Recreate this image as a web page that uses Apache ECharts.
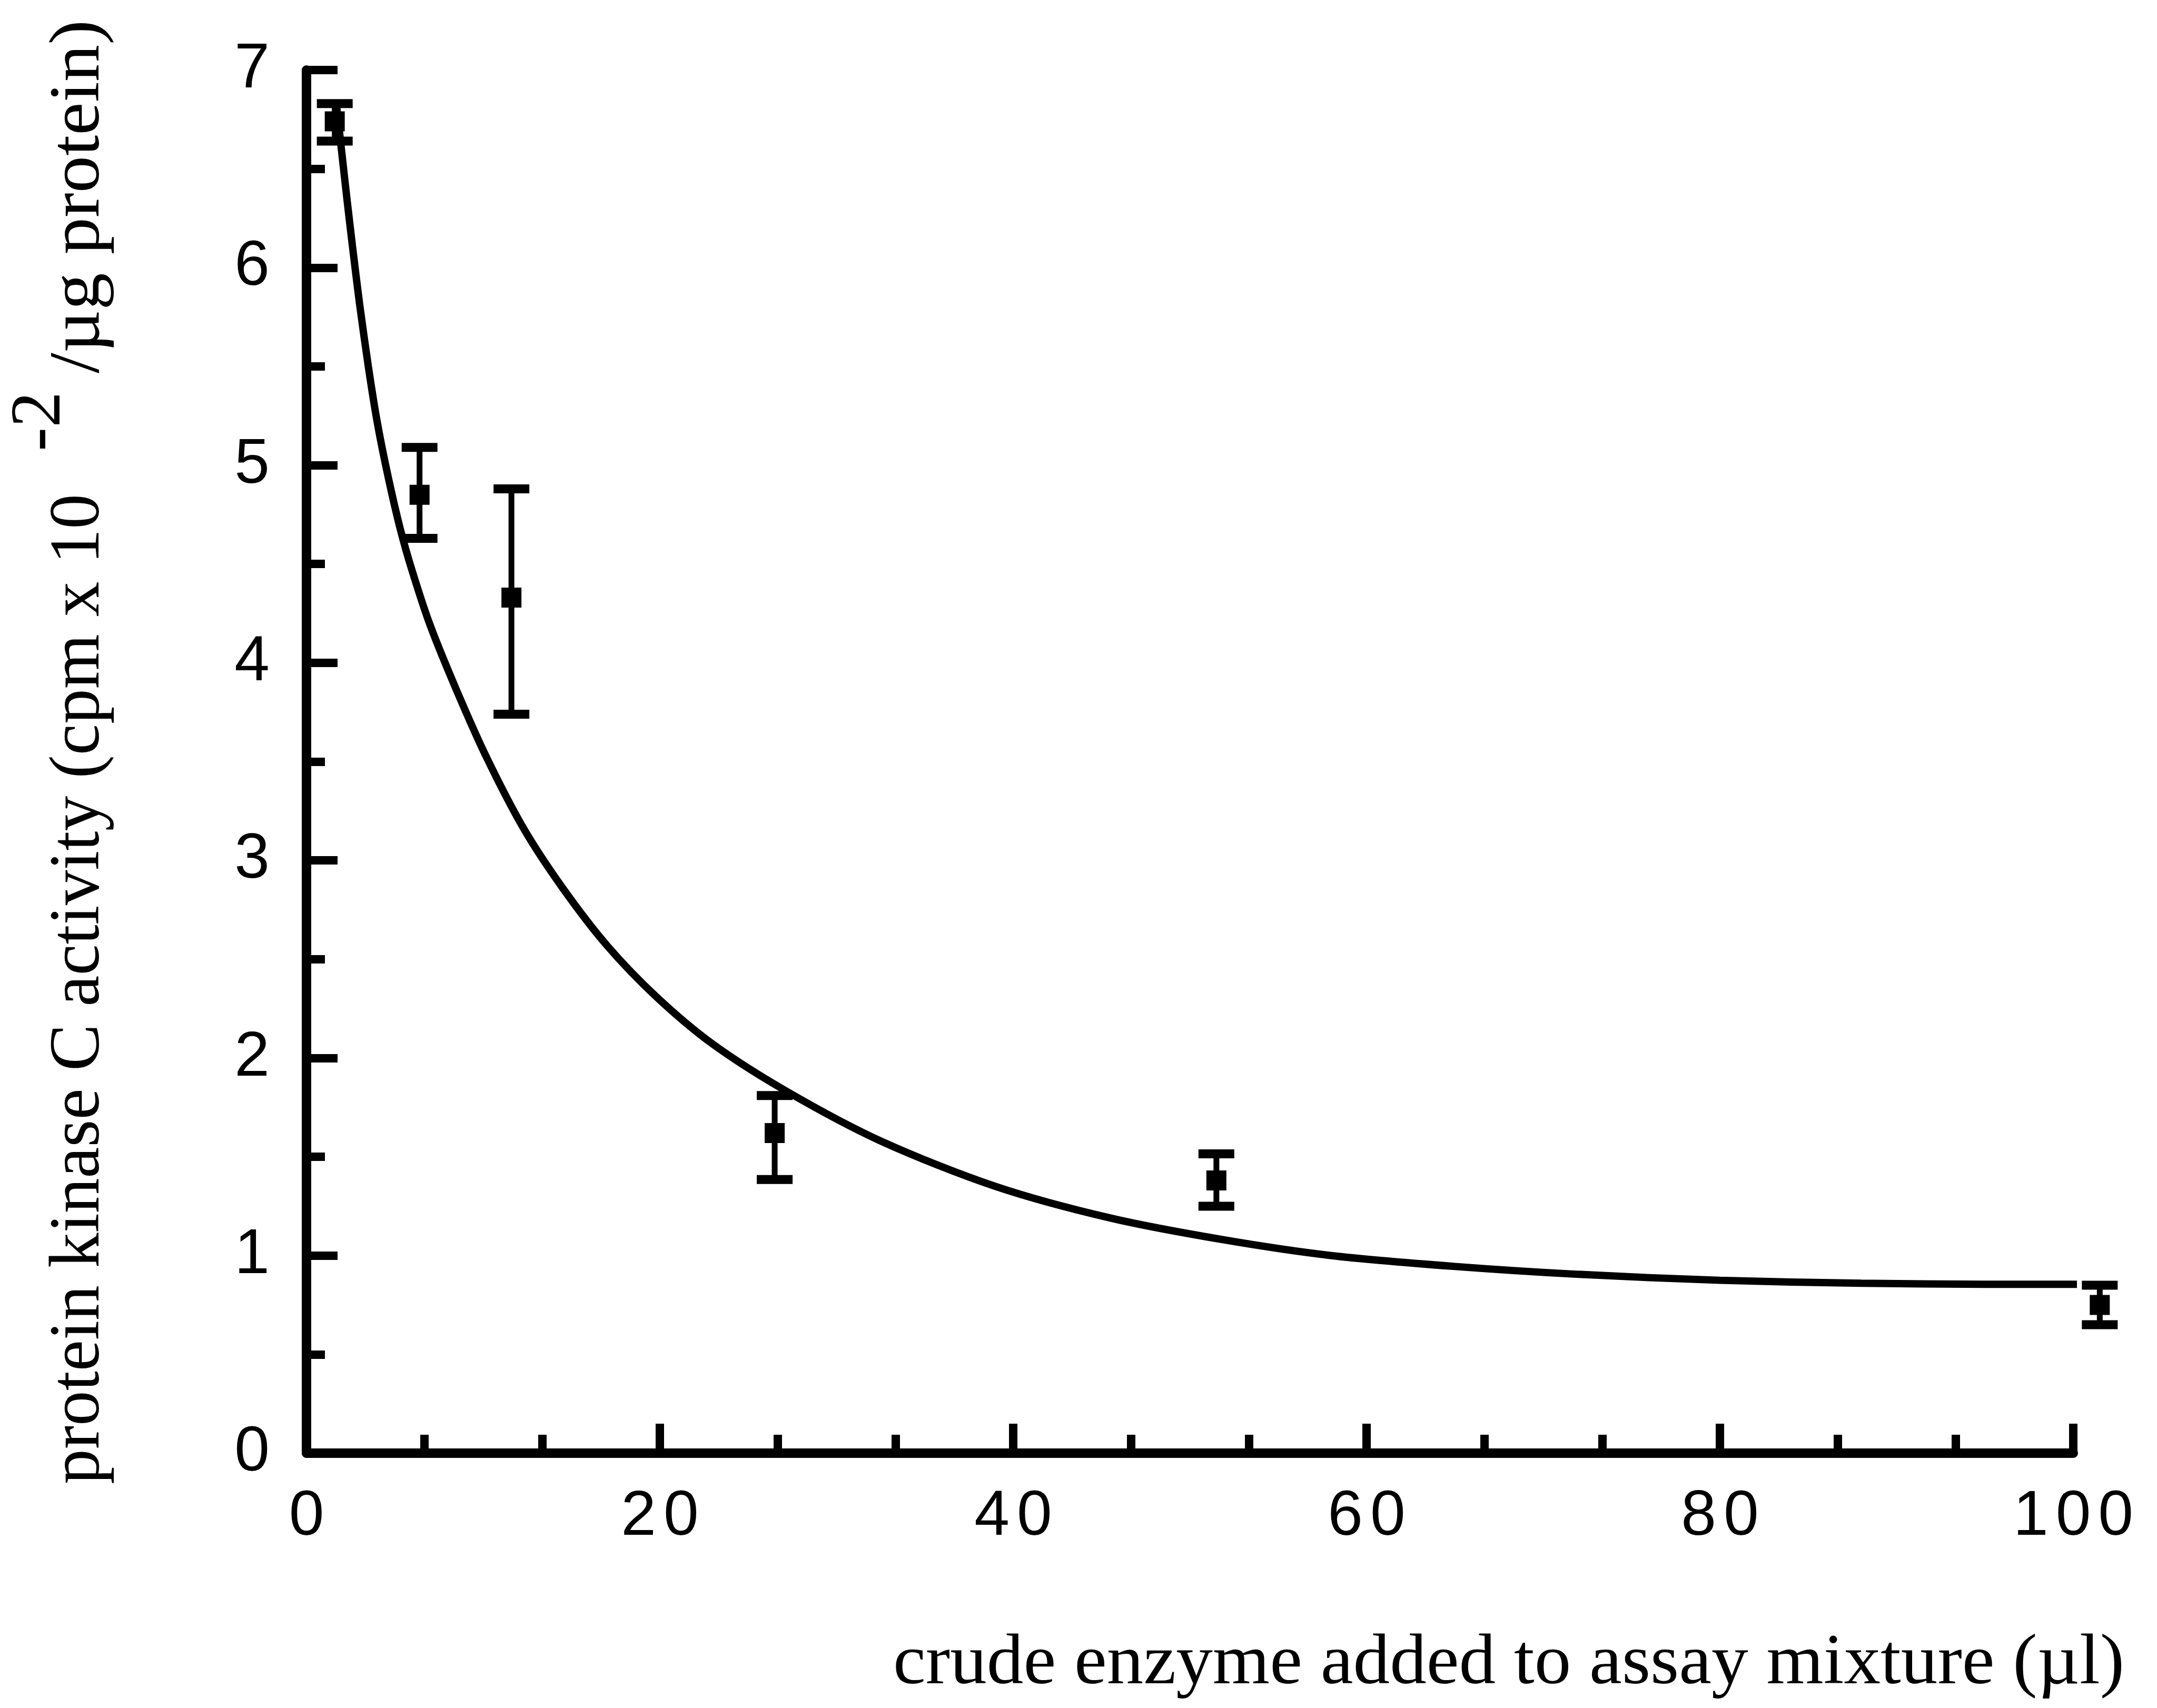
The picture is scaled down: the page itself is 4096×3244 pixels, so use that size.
<!DOCTYPE html>
<html>
<head>
<meta charset="utf-8">
<script src="https://cdn.jsdelivr.net/npm/echarts@6/dist/echarts.min.js"></script>
<style>
  html, body { margin: 0; padding: 0; background: #ffffff; }
  #chart { width: 4096px; height: 3244px; }
</style>
</head>
<body>
<div id="chart"></div>
<script>
// Measured activity at each enzyme volume (mean and error-bar limits)
const enzymeVolume  = [1.6, 6.4, 11.6, 26.5, 51.5, 101.5];
const activityMean  = [6.74, 4.85, 4.33, 1.62, 1.38, 0.75];
const activityUpper = [6.83, 5.09, 4.88, 1.81, 1.515, 0.85];
const activityLower = [6.64, 4.63, 3.74, 1.385, 1.25, 0.65];

// Fitted curve through the measurements
const fitVolume   = [1.7, 2.0, 2.3, 2.6, 3.0, 3.5, 4.0, 4.6, 5.3, 6.0, 7.0, 8.5, 10.2, 12.3, 14.5, 17.0, 19.8, 23.0, 27.2, 32.5, 39.0, 45.5, 51.9, 58.0, 65.0, 72.0, 80.0, 88.0, 95.0, 102.0];
const fitActivity = [6.82, 6.58, 6.34, 6.11, 5.82, 5.50, 5.22, 4.95, 4.68, 4.46, 4.19, 3.86, 3.52, 3.16, 2.86, 2.57, 2.31, 2.07, 1.83, 1.58, 1.35, 1.19, 1.08, 1.00, 0.945, 0.905, 0.875, 0.86, 0.855, 0.855];

// Axis ticks
const xTicks = [0, 20, 40, 60, 80, 100];
const yTicks = [0, 1, 2, 3, 4, 5, 6, 7];

// Axis titles
const xTitle = 'crude enzyme added to assay mixture (\u00B5l)';
const yTitleMain = 'protein kinase C activity (cpm x 10';
const yTitleExp = '-2';
const yTitleTail = '/\u00B5g protein)';

const serifFont = '136px "Liberation Serif", "Times New Roman", serif';

function textWidth(str, font) {
  const ctx = document.createElement('canvas').getContext('2d');
  ctx.font = font;
  return ctx.measureText(str).width;
}

const xTitleScale = 2338 / textWidth(xTitle, serifFont);
const yMainScale  = 1881 / textWidth(yTitleMain, serifFont);
const yTailScale  = 671 / textWidth(yTitleTail, serifFont);

const errorData = enzymeVolume.map((v, i) => [v, activityLower[i], activityUpper[i], activityMean[i]]);
const fitData = fitVolume.map((v, i) => [v, fitActivity[i]]);

const chart = echarts.init(document.getElementById('chart'), null, { renderer: 'canvas' });

function spacedDigits(value) {
  return String(value).split('').map(c => '{d|' + c + '}').join('');
}

const titleStyle = { font: serifFont, fill: '#000', align: 'left', verticalAlign: 'middle', textAlign: 'left', textVerticalAlign: 'middle' };

chart.setOption({
  animation: false,
  backgroundColor: '#ffffff',
  grid: { left: 582, right: 159, top: 133, bottom: 484, containLabel: false },
  xAxis: {
    type: 'value',
    min: xTicks[0],
    max: xTicks[xTicks.length - 1],
    interval: xTicks[1] - xTicks[0],
    axisLine: { show: true, onZero: false, lineStyle: { color: '#000', width: 18 } },
    axisTick: { show: true, inside: true, length: 56, lineStyle: { color: '#000', width: 16 } },
    minorTick: { show: true, splitNumber: 3, length: 35, lineStyle: { color: '#000', width: 16 } },
    splitLine: { show: false },
    axisLabel: {
      show: true,
      margin: 62,
      color: '#000',
      fontFamily: '"Liberation Sans", Arial, sans-serif',
      fontSize: 120,
      formatter: spacedDigits,
      rich: { d: { fontFamily: '"Liberation Sans", Arial, sans-serif', fontSize: 120, color: '#000', padding: [0, 7, 0, 7] } }
    }
  },
  yAxis: {
    type: 'value',
    min: yTicks[0],
    max: yTicks[yTicks.length - 1],
    interval: yTicks[1] - yTicks[0],
    axisLine: { show: true, onZero: false, lineStyle: { color: '#000', width: 18 } },
    axisTick: { show: true, inside: true, length: 59, lineStyle: { color: '#000', width: 16 } },
    minorTick: { show: true, splitNumber: 2, length: 35, lineStyle: { color: '#000', width: 16 } },
    splitLine: { show: false },
    axisLabel: {
      show: true,
      margin: 70,
      color: '#000',
      fontFamily: '"Liberation Sans", Arial, sans-serif',
      fontSize: 120,
      padding: [16, 0, 0, 0]
    }
  },
  series: [
    {
      type: 'line',
      data: fitData,
      smooth: 0.3,
      showSymbol: false,
      clip: false,
      lineStyle: { color: '#000', width: 14 },
      z: 2
    },
    {
      type: 'custom',
      data: errorData,
      clip: false,
      z: 3,
      renderItem: function (params, api) {
        const x = api.value(0);
        const lo = api.coord([x, api.value(1)]);
        const hi = api.coord([x, api.value(2)]);
        const mid = api.coord([x, api.value(3)]);
        const cap = 34;
        const box = 19;
        return {
          type: 'group',
          children: [
            { type: 'line', shape: { x1: lo[0], y1: lo[1], x2: hi[0], y2: hi[1] }, style: { stroke: '#000', lineWidth: 11 } },
            { type: 'line', shape: { x1: hi[0] - cap, y1: hi[1], x2: hi[0] + cap, y2: hi[1] }, style: { stroke: '#000', lineWidth: 17 } },
            { type: 'line', shape: { x1: lo[0] - cap, y1: lo[1], x2: lo[0] + cap, y2: lo[1] }, style: { stroke: '#000', lineWidth: 17 } },
            { type: 'rect', shape: { x: mid[0] - box, y: mid[1] - box, width: box * 2, height: box * 2 }, style: { fill: '#000' } }
          ]
        };
      }
    }
  ],
  graphic: [
    { type: 'text', x: 1696, y: 3161, scaleX: xTitleScale, style: Object.assign({ text: xTitle }, titleStyle) },
    { type: 'text', x: 151, y: 2819, rotation: Math.PI / 2, scaleX: yMainScale, style: Object.assign({ text: yTitleMain }, titleStyle) },
    { type: 'text', x: 77, y: 857, rotation: Math.PI / 2, style: Object.assign({ text: yTitleExp }, titleStyle) },
    { type: 'text', x: 151, y: 709, rotation: Math.PI / 2, scaleX: yTailScale, style: Object.assign({ text: yTitleTail }, titleStyle) }
  ]
});
</script>
</body>
</html>
